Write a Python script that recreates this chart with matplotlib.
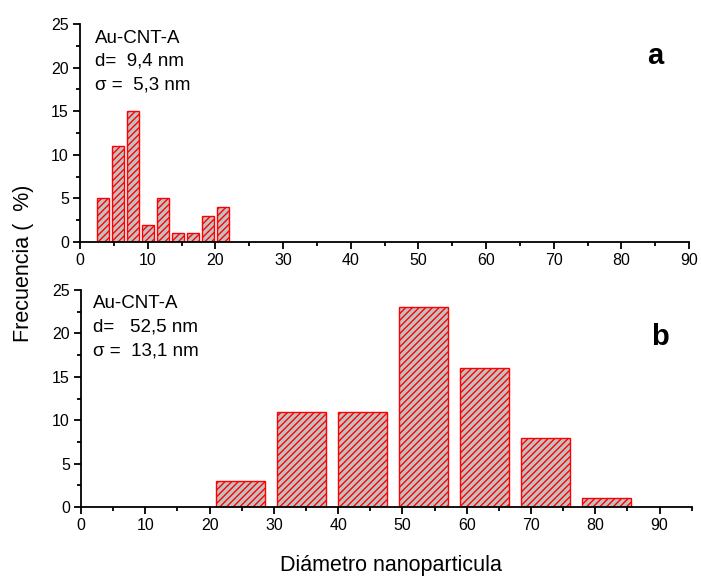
import matplotlib
matplotlib.use('Agg')
import matplotlib.pyplot as plt
from matplotlib.ticker import MultipleLocator

plt.rcParams['font.family'] = ['Liberation Sans', 'DejaVu Sans']

# histograma a (muestra con particulas pequenas)
centros_a = [3.4, 5.65, 7.85, 10.1, 12.3, 14.5, 16.7, 18.9, 21.1]
frec_a = [5, 11, 15, 2, 5, 1, 1, 3, 4]
ancho_a = 1.8

# histograma b
centros_b = [24.8, 34.25, 43.75, 53.25, 62.75, 72.25, 81.8]
frec_b = [3, 11, 11, 23, 16, 8, 1]
ancho_b = 7.6

textos_a = ['Au-CNT-A', 'd=  9,4 nm', '\u03c3 =  5,3 nm']
textos_b = ['Au-CNT-A', 'd=   52,5 nm', '\u03c3 =  13,1 nm']

W, H = 701, 578

def px(x, y):
    return x / W, 1 - y / H

fig = plt.figure(figsize=(W / 100, H / 100), dpi=100)

ax1 = fig.add_axes([80 / W, 1 - 242 / H, 609 / W, 218 / H])
ax2 = fig.add_axes([81 / W, 1 - 507 / H, 610.7 / W, 217 / H])

ax1.bar(centros_a, frec_a, width=ancho_a, color='#c0c0c0', edgecolor='red',
        hatch='/////', linewidth=1.0)
ax2.bar(centros_b, frec_b, width=ancho_b, color='#c0c0c0', edgecolor='red',
        hatch='/////', linewidth=1.0)

ax1.set_xlim(0, 90)
ax2.set_xlim(0, 95)

for ax in (ax1, ax2):
    ax.set_ylim(0, 25)
    ax.spines['top'].set_visible(False)
    ax.spines['right'].set_visible(False)
    ax.spines['left'].set_linewidth(1.3)
    ax.spines['bottom'].set_linewidth(1.3)
    ax.xaxis.set_major_locator(MultipleLocator(10))
    ax.xaxis.set_minor_locator(MultipleLocator(5))
    ax.yaxis.set_major_locator(MultipleLocator(5))
    ax.yaxis.set_minor_locator(MultipleLocator(2.5))
    ax.tick_params(which='major', direction='out', length=5, width=1.3,
                   labelsize=11.5, pad=3)
    ax.tick_params(which='minor', direction='out', length=3, width=1.3)

# textos de cada panel
for i, t in enumerate(textos_a):
    fig.text(*px(95, 43 + 23 * i), t, fontsize=13.5, va='baseline', ha='left')
for i, t in enumerate(textos_b):
    fig.text(*px(93, 308 + 23.5 * i), t, fontsize=13.5, va='baseline', ha='left')

fig.text(*px(655, 56), 'a', fontsize=21, fontweight='bold', ha='center', va='center')
fig.text(*px(660, 337), 'b', fontsize=21, fontweight='bold', ha='center', va='center')

fig.text(*px(24, 263), 'Frecuencia (  %)', fontsize=15.5, rotation=90,
         ha='center', va='center')
fig.text(*px(391, 565), 'Diámetro nanoparticula', fontsize=15.5,
         ha='center', va='center')

fig.savefig('out.png', dpi=100)
